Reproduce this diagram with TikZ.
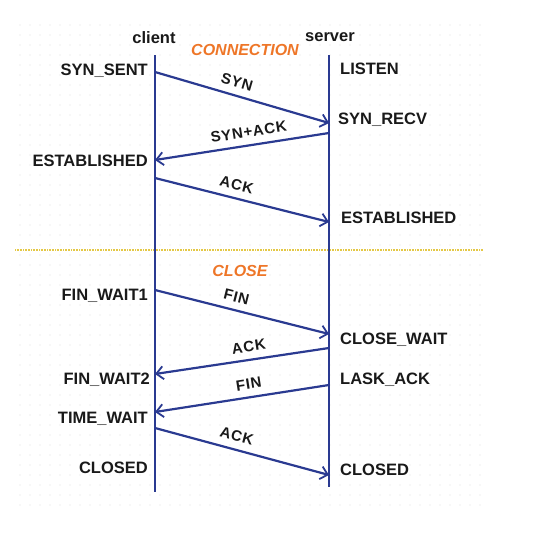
\documentclass[tikz,border=0pt]{standalone}
\usepackage{fontspec}
\setmainfont{Liberation Sans}
\newfontfamily\lblfont[LetterSpace=5]{Liberation Sans}
\usetikzlibrary{arrows.meta}
\definecolor{lineblue}{RGB}{42,58,145}
\definecolor{phaseorange}{RGB}{238,118,40}
\definecolor{sepyellow}{RGB}{228,200,70}

\begin{document}
\begin{tikzpicture}[x=1pt,y=-1pt,
    state/.style={font=\fontsize{16.5}{19}\selectfont\bfseries,text=black!90,inner sep=0pt},
    head/.style={font=\fontsize{16.5}{19}\selectfont\bfseries,text=black!90,inner sep=0pt},
    phase/.style={font=\fontsize{16}{19}\selectfont\bfseries\itshape,text=phaseorange,inner sep=0pt},
    msg/.style={font=\lblfont\fontsize{15}{18}\selectfont\bfseries,text=black!90,sloped,above=7pt,pos=0.45,inner sep=0pt},
    life/.style={draw=lineblue,line width=2.2pt},
    sig/.style={draw=lineblue,line width=2.2pt,-{Straight Barb[length=7pt,width=13pt,line width=1.8pt]}}]
    \useasboundingbox (0,0) rectangle (558,533);
    % dot grid
    \foreach \x in {20,30,...,480}
        \foreach \y in {25,35,...,505}
            \fill[black!13] (\x,\y) circle (0.6);
    \draw[sepyellow,line width=1.6pt,dash pattern=on 1pt off 0.6pt] (15,250) -- (483,250);
    % lifelines
    \coordinate (CT) at (155,55);
    \coordinate (CB) at (155,492);
    \coordinate (ST) at (329,55);
    \coordinate (SB) at (329,487);
    \draw[life] (CT) -- (CB);
    \draw[life] (ST) -- (SB);
    \node[head] (client) at (154,38) {client};
    \node[head] (server) at (330,37) {server};
    \node[phase] (conn) at (245,50) {CONNECTION};
    \node[phase] (close) at (240,271) {CLOSE};
    % message ends
    \coordinate (C1) at (155,72);  \coordinate (S1) at (329,123);
    \coordinate (S2) at (329,133); \coordinate (C2) at (155,160);
    \coordinate (C3) at (155,178); \coordinate (S3) at (329,222);
    \coordinate (C4) at (155,290); \coordinate (S4) at (329,334);
    \coordinate (S5) at (329,348); \coordinate (C5) at (155,374);
    \coordinate (S6) at (329,385); \coordinate (C6) at (155,412);
    \coordinate (C7) at (155,428); \coordinate (S7) at (329,475);
    % client states
    \node[state,anchor=east] (synsent) at (148,71) {SYN\_SENT};
    \node[state,anchor=east] (cestab) at (148,161) {ESTABLISHED};
    \node[state,anchor=east] (finwaita) at (148,296) {FIN\_WAIT1};
    \node[state,anchor=east] (finwaitb) at (150,380) {FIN\_WAIT2};
    \node[state,anchor=east] (timewait) at (148,419) {TIME\_WAIT};
    \node[state,anchor=east] (cclosed) at (148,468) {CLOSED};
    % server states
    \node[state,anchor=west] (listen) at (340,69) {LISTEN};
    \node[state,anchor=west] (synrecv) at (338,120) {SYN\_RECV};
    \node[state,anchor=west] (sestab) at (341,218) {ESTABLISHED};
    \node[state,anchor=west] (closewait) at (340,340) {CLOSE\_WAIT};
    \node[state,anchor=west] (laskack) at (340,380) {LASK\_ACK};
    \node[state,anchor=west] (sclosed) at (340,470) {CLOSED};
    % messages
    \draw[sig] (C1) -- node[msg] {SYN} (S1);
    \draw[sig] (S2) -- node[msg] {SYN+ACK} (C2);
    \draw[sig] (C3) -- node[msg] {ACK} (S3);
    \draw[sig] (C4) -- node[msg] {FIN} (S4);
    \draw[sig] (S5) -- node[msg] {ACK} (C5);
    \draw[sig] (S6) -- node[msg] {FIN} (C6);
    \draw[sig] (C7) -- node[msg] {ACK} (S7);
\end{tikzpicture}
\end{document}
